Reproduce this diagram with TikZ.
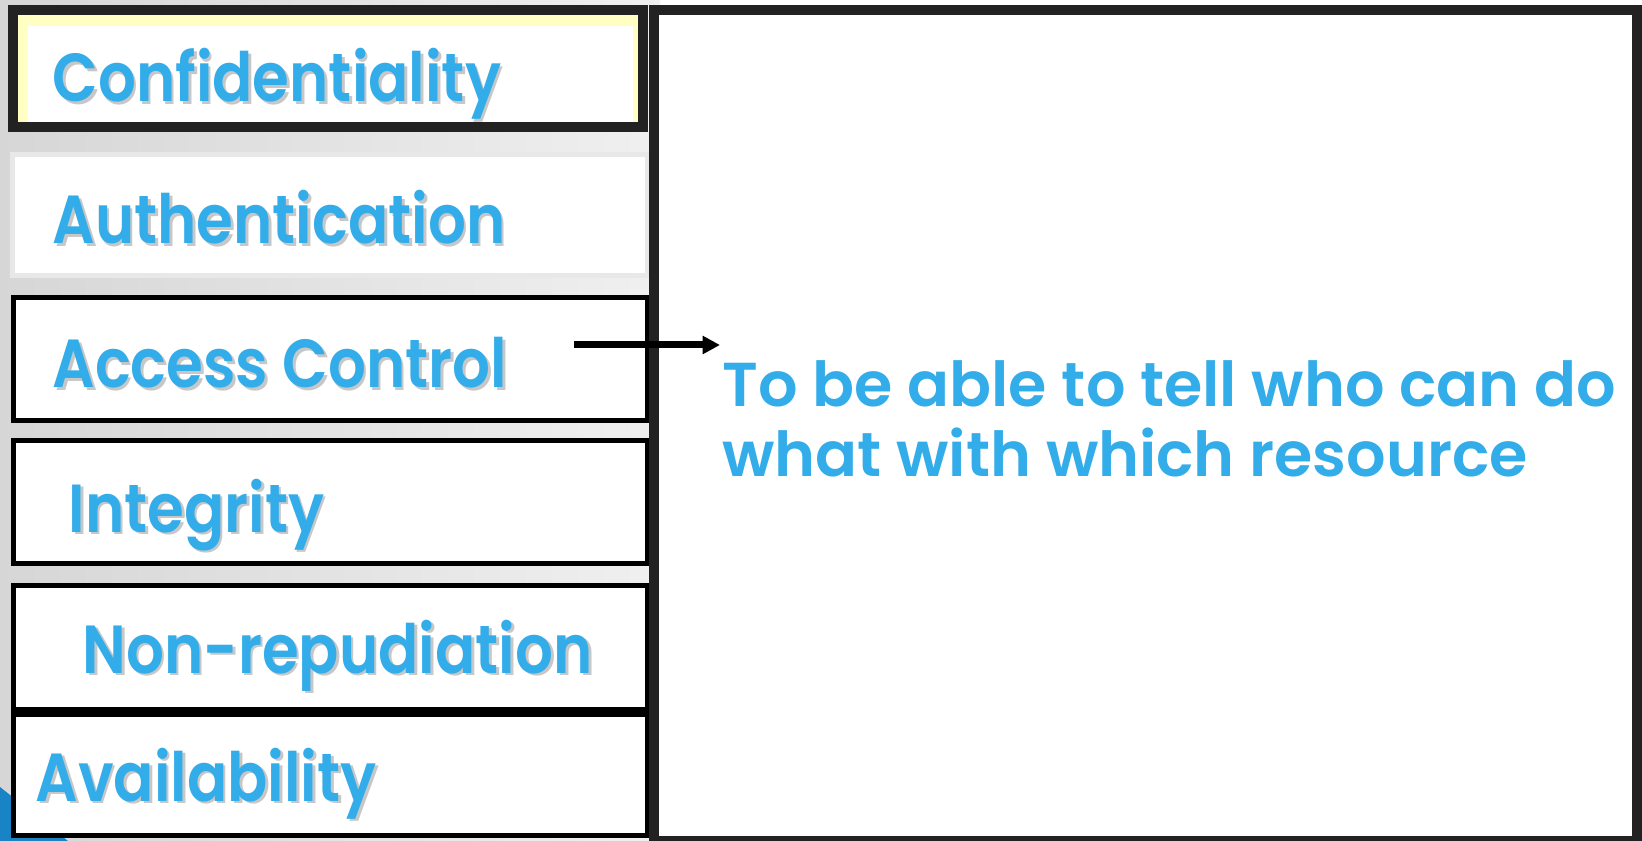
\documentclass[tikz,border=0pt]{standalone}
\usepackage{fontspec}
\newfontfamily\gothic{Poppins}[UprightFont=* SemiBold, FakeStretch=0.875]
\newfontfamily\gothicwide{Poppins}[UprightFont=* SemiBold]
\usetikzlibrary{arrows.meta}

\definecolor{labelblue}{RGB}{51,172,234}
\definecolor{framedark}{RGB}{34,34,34}
\definecolor{paleyellow}{RGB}{255,255,196}
\definecolor{cornerblue}{RGB}{24,132,198}

\tikzset{every picture/.style={line width=0.75pt}}
\tikzset{
  itembox/.style={draw=black, line width=3.75pt, fill=white},
  itemlabel/.style={anchor=base west, inner sep=0pt, text=labelblue, font=\gothic\fontsize{51}{60}\selectfont},
  desctext/.style={anchor=base west, inner sep=0pt, align=left, text=labelblue, font=\gothicwide\fontsize{46.5}{52.5}\selectfont},
}
\newcommand{\shadowed}[1]{\rlap{\hspace{2pt}\raisebox{-2pt}{\textcolor{black!22}{#1}}}#1}

\begin{document}
\begin{tikzpicture}[x=0.75pt,y=0.75pt,yscale=-1,xscale=1]
\useasboundingbox (0,0) rectangle (1642,841);

%Background
\shade [left color=black!16, right color=black!6] (0,0) rectangle (660,841);
\fill [cornerblue] (0,787) -- (0,841) -- (68,841) -- cycle;

%Shape: Rectangle
\draw [framedark, line width=7.5pt, fill=paleyellow] (13,10) rectangle (643,127);
\fill [white] (28,26) rectangle (633,122);
%Shape: Rectangle
\draw [draw=black!9, line width=3.75pt, fill=white] (12.5,154.5) rectangle (647.5,275.5);
%Shape: Rectangle
\draw [itembox] (13.5,297.5) rectangle (647.5,420.5);
%Shape: Rectangle
\draw [itembox] (13.5,440.5) rectangle (647.5,563.5);
%Shape: Rectangle
\draw [itembox] (13.5,585.5) rectangle (647.5,709.5);
%Shape: Rectangle
\draw [itembox] (13.5,714.5) rectangle (647.5,835.5);
%Shape: Rectangle
\draw [framedark, line width=7.5pt, fill=white] (653.5,10) rectangle (1637,841);

% Text Node
\draw (52,101.5) node [itemlabel] (conf) {\shadowed{Confidentiality}};
% Text Node
\draw (52,244) node [itemlabel] (auth) {\shadowed{Authentication}};
% Text Node
\draw (52,387.5) node [itemlabel] (acc) {\shadowed{Access Control}};
% Text Node
\draw (68,532) node [itemlabel] (integ) {\shadowed{Integrity}};
% Text Node
\draw (82,673) node [itemlabel] (nonrep) {\shadowed{Non-repudiation}};
% Text Node
\draw (35,801) node [itemlabel] (avail) {\shadowed{Availability}};
% Text Node
\draw (722,476) node [desctext] (desc) {To be able to tell who can do\\what with which resource};

%Straight Lines
\coordinate (acc-tail) at (574,345);
\coordinate (acc-head) at (720,345);
\draw [line width=5.25pt, -{Triangle[length=13pt,width=13pt]}] (acc-tail) -- (acc-head);

\end{tikzpicture}
\end{document}
